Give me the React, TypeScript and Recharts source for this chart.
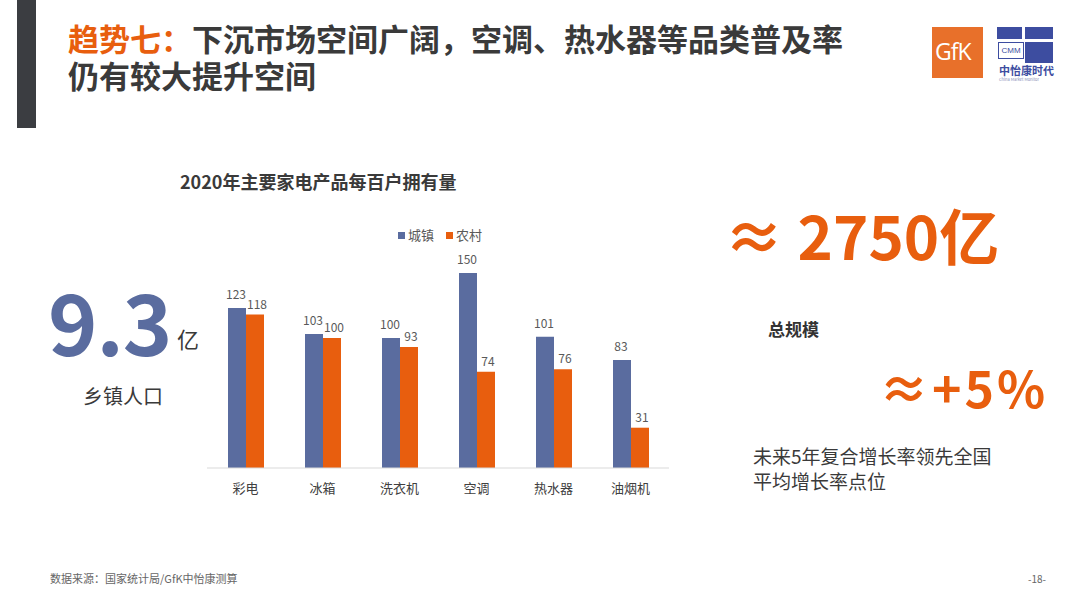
import { BarChart, Bar, XAxis, YAxis, LabelList } from "recharts";

const categories = ["彩电", "冰箱", "洗衣机", "空调", "热水器", "油烟机"];
const urban = [123, 103, 100, 150, 101, 83];
const rural = [118, 100, 93, 74, 76, 31];
const seriesNames = ["城镇", "农村"];

const BLUE = "#5A6C9F";
const ORANGE = "#E85E0E";
const FONT = "'Noto Sans CJK SC', 'Noto Sans', sans-serif";

const data = categories.map((name, i) => ({ name, urban: urban[i], rural: rural[i] }));

const abs = (left: number, top: number, extra: any = {}) => ({
  position: "absolute" as const,
  left,
  top,
  fontFamily: FONT,
  whiteSpace: "nowrap" as const,
  ...extra,
});

const LegendBox = () => (
  <div style={{ ...abs(398, 227), display: "flex", fontSize: 13, color: "#595959", lineHeight: "16px" }}>
    {[BLUE, ORANGE].map((c, i) => (
      <div key={i} style={{ display: "flex", alignItems: "center", marginRight: 12 }}>
        <span style={{ width: 7, height: 7, background: c, display: "inline-block", marginRight: 3 }} />
        <span>{seriesNames[i]}</span>
      </div>
    ))}
  </div>
);

const labelStyle = { fontSize: 12, fill: "#595959", fontFamily: FONT };

export default function App() {
  const titleStyle = { fontSize: 31, fontWeight: 700, color: "#3A3A3A", lineHeight: "33px" };
  return (
    <div style={{ position: "absolute", left: 0, top: 0, width: 1080, height: 608, background: "#fff", overflow: "hidden" }}>
      <div style={{ position: "absolute", left: 17, top: 0, width: 19, height: 128, background: "#3B3D41" }} />
      <div style={abs(68, 21, titleStyle)}>
        <span style={{ color: ORANGE }}>趋势七：</span>下沉市场空间广阔，空调、热水器等品类普及率
      </div>
      <div style={abs(68, 58, titleStyle)}>仍有较大提升空间</div>

      {/* logos */}
      <div style={{ position: "absolute", left: 932, top: 27, width: 51, height: 51, background: "#E8702A" }}>
        <div style={abs(3, 10, { color: "#fff", fontSize: 23, fontFamily: "'Open Sans', sans-serif", lineHeight: "28px", letterSpacing: -1 })}>GfK</div>
      </div>
      <div style={{ position: "absolute", left: 997, top: 27, width: 56, height: 37 }}>
        <div style={{ position: "absolute", left: 0, top: 0, width: 25, height: 12, background: "#3D4DA0" }} />
        <div style={{ position: "absolute", left: 28, top: 0, width: 28, height: 12, background: "#3D4DA0" }} />
        <div style={{ position: "absolute", left: 28, top: 15, width: 28, height: 21, background: "#3D4DA0" }} />
        <div style={{ position: "absolute", left: 1, top: 15, width: 24, height: 15, border: "1px solid #3D4DA0", fontSize: 8, color: "#3D4DA0", textAlign: "center", lineHeight: "15px", fontFamily: "Arial, sans-serif" }}>CMM</div>
      </div>
      <div style={abs(999, 63, { fontSize: 11, color: "#3D4DA0", fontWeight: 700, lineHeight: "14px" })}>中怡康时代</div>
      <div style={abs(999, 76, { fontSize: 4, color: "#8890b8", lineHeight: "6px" })}>China Market Monitor</div>

      {/* left stats */}
      <div style={abs(48, 270, { fontSize: 84, fontWeight: 700, color: BLUE, lineHeight: "100px", letterSpacing: -1 })}>9.3</div>
      <div style={abs(177, 324, { fontSize: 22, color: "#3A3A3A", lineHeight: "28px" })}>亿</div>
      <div style={abs(83, 382, { fontSize: 20, color: "#3A3A3A", lineHeight: "28px" })}>乡镇人口</div>

      {/* right stats */}
      <div style={abs(724, 196, { fontSize: 60, fontWeight: 700, color: ORANGE, lineHeight: "76px" })}>≈ 2750亿</div>
      <div style={abs(768, 317, { fontSize: 17, fontWeight: 700, color: "#333", lineHeight: "24px" })}>总规模</div>
      <div style={abs(879, 354, { fontSize: 50, fontWeight: 700, color: ORANGE, lineHeight: "64px", letterSpacing: 3 })}>≈+5%</div>
      <div style={abs(753, 443, { fontSize: 19, color: "#3A3A3A", lineHeight: "25px" })}>
        未来5年复合增长率领先全国
        <br />平均增长率点位
      </div>

      {/* chart title */}
      <div style={abs(180, 168, { fontSize: 18, fontWeight: 700, color: "#3A3A3A", lineHeight: "26px" })}>
        2020年主要家电产品每百户拥有量
      </div>
      <LegendBox />

      <div style={{ position: "absolute", left: 170, top: 200 }}>
        <BarChart
          width={520}
          height={310}
          data={data}
          margin={{ top: 60, right: 21, left: 37, bottom: 12 }}
          barGap={0}
          barCategoryGap="27%"
        >
          <XAxis
            dataKey="name"
            axisLine={{ stroke: "#D9D9D9" }}
            tickLine={false}
            height={30}
            tick={{ fontSize: 13, fill: "#404040", fontFamily: FONT }}
            tickMargin={10}
          />
          <YAxis hide domain={[0, 160]} />
          <Bar dataKey="urban" fill={BLUE} barSize={18} isAnimationActive={false}>
            <LabelList dataKey="urban" position="top" offset={9} dx={-1} style={labelStyle} />
          </Bar>
          <Bar dataKey="rural" fill={ORANGE} barSize={18} isAnimationActive={false}>
            <LabelList dataKey="rural" position="top" offset={6} dx={2} style={labelStyle} />
          </Bar>
        </BarChart>
      </div>

      <div style={abs(50, 570, { fontSize: 11, color: "#666", lineHeight: "16px" })}>数据来源：国家统计局/GfK中怡康测算</div>
      <div style={abs(1028, 571, { fontSize: 10, color: "#666", lineHeight: "16px" })}>-18-</div>
    </div>
  );
}
